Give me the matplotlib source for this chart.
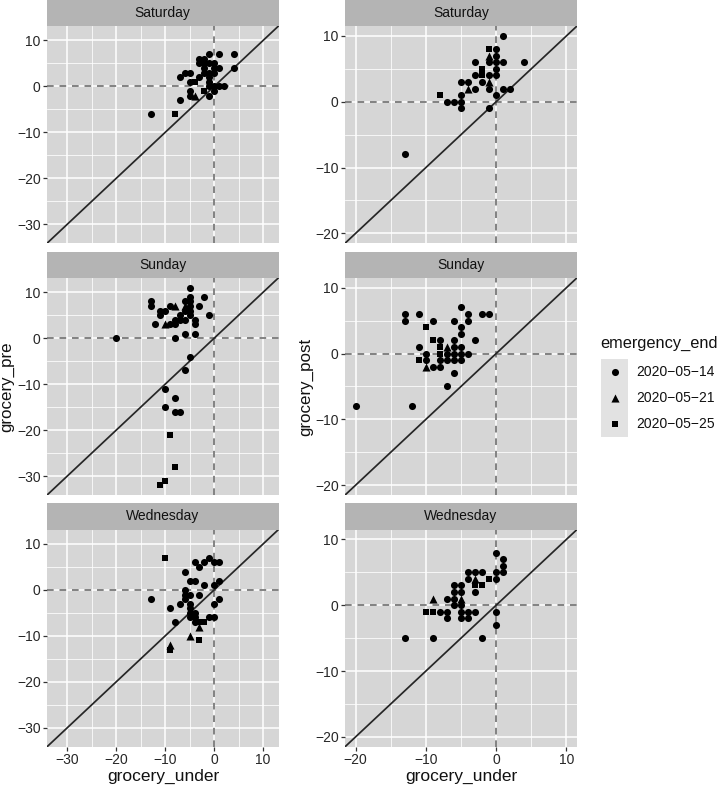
import matplotlib
matplotlib.use("Agg")
import matplotlib.pyplot as plt
from matplotlib.ticker import MultipleLocator
from matplotlib.patches import Rectangle

plt.rcParams['font.family'] = ['Liberation Sans', 'DejaVu Sans']

# ---------------- data ----------------
emergency_end = ["2020-05-14", "2020-05-21", "2020-05-25"]
days = ["Saturday", "Sunday", "Wednesday"]

# Saturday, grocery_pre vs grocery_under
sat_pre_x = [-1, 1, 4, -3, -2, -3, 0, -2, 1, 4, -6, -5, -2, -1, 0, -7, -3, -5, -1, -1, 1, 2, -5, 0, -5, -1, -7, -13, -1, 0, -1, 0, -2,
             -4, -2, -8,
             -4]
sat_pre_y = [7, 7, 7, 6, 6, 5, 5, 4, 4, 4, 3, 3, 3, 3, 3, 2, 2, 1, 1, 0, 0, 0, -1, -1, -2, -2, -3, -6, 5, 4, 2, 0, 5,
             1, -1, -6,
             -2]
sat_pre_g = [0] * 33 + [2] * 3 + [1] * 1

# Saturday, grocery_post vs grocery_under
sat_post_x = [1, 0, 0, -3, -1, 0, 1, 4, 0, -3, -1, 0, -5, -4, -2, -3, -1, 1, 2, -5, 0, -7, -6, -5, -5, -1, -13,
              -1, -2, -2, -8,
              -1, -1, -4]
sat_post_y = [10, 8, 7, 6, 6, 6, 6, 6, 5, 4, 4, 4, 3, 3, 3, 2, 2, 2, 2, 1, 1, 0, 0, 0, -1, -1, -8,
              8, 5, 4, 1,
              7, 3, 2]
sat_post_g = [0] * 27 + [2] * 4 + [1] * 3

# Sunday, grocery_pre vs grocery_under
sun_pre_x = [-5, -2, -5, -13, -13, -6, -5, -3, -9, -11, -10, -11, -7, -5, -1, -6, -5, -8, -7, -6, -4, -12, -9, -8, -4,
             -6, -4, -20, -8, -5, -6, -10, -8, -10, -8, -7, -5,
             -9, -8, -10, -11,
             -8, -10, -6]
sun_pre_y = [11, 9, 9, 8, 7, 8, 8, 7, 7, 6, 6, 5, 5, 5, 5, 6, 6, 4, 4, 4, 4, 3, 3, 3, 3,
             1, 1, 0, 0, -4, -7, -11, -13, -15, -16, -16, 7,
             -21, -28, -31, -32,
             7, 3, 7]
sun_pre_g = [0] * 37 + [2] * 4 + [1] * 3

# Sunday, grocery_post vs grocery_under
sun_post_x = [-5, -13, -13, -11, -9, -6, -4, -4, -2, -1, -5, -5, -8, -6, -3, -11, -6, -5, -10, -7, -6, -5, -4,
              -10, -8, -7, -6, -5, -9, -8, -6, -7, -12, -20,
              -10, -9, -8, -11, -8,
              -7, -10]
sun_post_y = [7, 6, 5, 6, 5, 5, 6, 5, 6, 6, 4, 3, 2, 2, 2, 1, 1, 1, 0, 0, 0, 0, 0,
              -1, -1, -1, -1, -1, -2, -2, -3, -5, -8, -8,
              4, 2, 1, -1, 0,
              1, -2]
sun_post_g = [0] * 34 + [2] * 5 + [1] * 2

# Wednesday, grocery_pre vs grocery_under
wed_pre_x = [-1, -2, -4, 0, 1, -3, -6, -5, -4, 1, -2, 0, -6, -6, -6, -5, -3, -13, 1, -7, -5, 0, -9, -5, -4, -5,
             -5, -4, -1, 0, -8, -4,
             -10, -2, -3, -3, -9,
             -3, -5, -9]
wed_pre_y = [7, 6, 6, 6, 6, 5, 4, 2, 2, 2, 1, 1, 0, -1, -2, -1, -1, -2, -2, -3, -3, -3, -4, -4, -5, -5,
             -6, -6, -6, -6, -7, -7,
             7, -7, -7, -11, -13,
             -8, -10, -12]
wed_pre_g = [0] * 32 + [2] * 5 + [1] * 3

# Wednesday, grocery_post vs grocery_under
wed_post_x = [0, 1, 1, 1, 0, 0, -4, -3, -2, -4, -3, -6, -5, -6, -5, -7, -6, -6, -5, -8, -7, -5, -4, -3, 0,
              -7, -5, -4, 0, -13, -9, -2,
              -1, -3, -2, -10, -9,
              -3, -9, -5]
wed_post_y = [8, 7, 6, 5, 5, 4, 5, 5, 5, 4, 2, 3, 3, 2, 2, 1, 1, 0, 0, -1, -1, -1, -1, -1, -1,
              -2, -2, -2, -3, -5, -5, -5,
              4, 3, 3, -1, -1,
              4, 1, 1]
wed_post_g = [0] * 32 + [2] * 5 + [1] * 3

pre_panels = [(sat_pre_x, sat_pre_y, sat_pre_g), (sun_pre_x, sun_pre_y, sun_pre_g), (wed_pre_x, wed_pre_y, wed_pre_g)]
post_panels = [(sat_post_x, sat_post_y, sat_post_g), (sun_post_x, sun_post_y, sun_post_g), (wed_post_x, wed_post_y, wed_post_g)]

# ---------------- style ----------------
W, H = 720, 787
fig = plt.figure(figsize=(W / 100, H / 100), dpi=100)
fig.patch.set_facecolor('white')

PANEL_BG = '#D6D6D6'
STRIP_BG = '#B4B4B4'
KEY_BG = '#E2E2E2'
TXT = '#111111'
TICK_TXT = '#262626'
markers = ['o', '^', 's']
msizes = [26, 34, 20]

def px_axes(x0, y0, x1, y1):
    return fig.add_axes([x0 / W, 1 - y1 / H, (x1 - x0) / W, (y1 - y0) / H])

col_x = [(47, 278.5), (345, 577)]
row_top = [26, 277.8, 529.5]
panel_h = 217.3
strip_h = 26.3
lims = [(-34.15, 13.15), (-21.5, 11.5)]

for c, panels in enumerate([pre_panels, post_panels]):
    x0, x1 = col_x[c]
    lo, hi = lims[c]
    for r, (xs, ys, gs) in enumerate(panels):
        top = row_top[r]
        # strip
        sax = px_axes(x0, top - strip_h, x1, top)
        sax.set_facecolor(STRIP_BG)
        sax.set_xticks([]); sax.set_yticks([])
        for s in sax.spines.values():
            s.set_visible(False)
        sax.text(0.5, 0.5, days[r], ha='center', va='center', fontsize=10, color=TXT,
                 transform=sax.transAxes)
        # panel
        ax = px_axes(x0, top, x1, top + panel_h)
        ax.set_facecolor(PANEL_BG)
        for s in ax.spines.values():
            s.set_visible(False)
        ax.set_xlim(lo, hi)
        ax.set_ylim(lo, hi)
        ax.xaxis.set_major_locator(MultipleLocator(10))
        ax.yaxis.set_major_locator(MultipleLocator(10))
        ax.xaxis.set_minor_locator(MultipleLocator(5))
        ax.yaxis.set_minor_locator(MultipleLocator(5))
        ax.grid(which='major', color='white', lw=1.1)
        ax.grid(which='minor', color='white', lw=0.55)
        ax.set_axisbelow(True)
        ax.tick_params(which='major', length=2.6, width=0.9, color='#333333', labelsize=10,
                       labelcolor=TICK_TXT, pad=2)
        ax.tick_params(which='minor', length=0)
        if r < 2:
            ax.tick_params(axis='x', which='both', labelbottom=False, length=0)
        ax.axhline(0, color='#6E6E6E', lw=1.2, ls=(0, (4, 3.5)), zorder=2)
        ax.axvline(0, color='#6E6E6E', lw=1.2, ls=(0, (4, 3.5)), zorder=2)
        ax.axline((0, 0), slope=1, color='#262626', lw=1.25, zorder=2)
        for g in range(3):
            px = [x for x, gg in zip(xs, gs) if gg == g]
            py = [y for y, gg in zip(ys, gs) if gg == g]
            ax.scatter(px, py, marker=markers[g], s=msizes[g], color='black',
                       linewidths=0, zorder=3)

# axis titles
fig.text(163 / W, 1 - 776 / H, 'grocery_under', ha='center', va='center', fontsize=12.5, color=TXT)
fig.text(461 / W, 1 - 776 / H, 'grocery_under', ha='center', va='center', fontsize=12.5, color=TXT)
fig.text(7 / W, 1 - 387 / H, 'grocery_pre', ha='center', va='center', rotation=90, fontsize=12.2, color=TXT)
fig.text(306 / W, 1 - 387 / H, 'grocery_post', ha='center', va='center', rotation=90, fontsize=12.2, color=TXT)

# legend
lax = px_axes(580, 330, 720, 440)
lax.set_xlim(0, 140)
lax.set_ylim(110, 0)
lax.axis('off')
lax.text(20, 13, 'emergency_end', ha='left', va='center', fontsize=11.8, color=TXT)
lax.add_patch(Rectangle((21, 29), 27, 78, facecolor=KEY_BG, edgecolor='none'))
for g, lab in enumerate(emergency_end):
    yy = 42 + 26 * g
    lax.scatter([34.5], [yy], marker=markers[g], s=msizes[g], color='black', linewidths=0)
    lax.text(56, yy, lab.replace('-', '\u2212'), ha='left', va='center', fontsize=10, color=TXT)

fig.savefig('out.png', dpi=100, facecolor='white')
